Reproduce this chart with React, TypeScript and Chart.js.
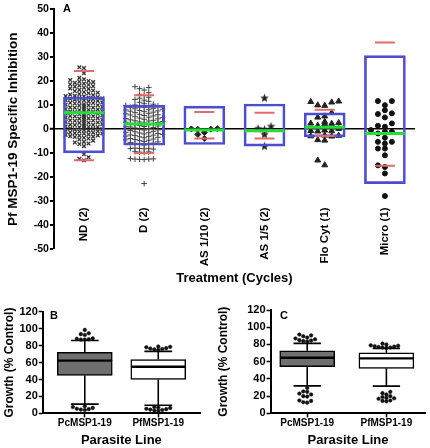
import React, { useEffect, useRef } from 'react';
import { Chart, registerables } from 'chart.js';

Chart.register(...registerables);

const FONT = "'Liberation Sans', Arial, Helvetica, sans-serif";

// ---------- Panel A data ----------
const TREATMENTS = ['ND (2)', 'D (2)', 'AS 1/10 (2)', 'AS 1/5 (2)', 'Flo Cyt (1)', 'Micro (1)'];
const Y_TICKS_A = [-50, -40, -30, -20, -10, 0, 10, 20, 30, 40, 50];
const BOX_LOW = [-9.9, -6.7, -6.4, -7.1, -3.2, -22.7];
const BOX_HIGH = [13.3, 9.9, 9.6, 10.5, 6.8, 30.7];
const MEAN = [6.8, 2.1, -0.4, -0.7, 0.8, -1.8];
const RED_HIGH = [24.3, 14.1, 7.2, 6.8, 8.1, 36.1];
const RED_LOW = [-13.0, -9.9, -3.9, -3.9, -2.9, -15.3];

const ND_VALUES = [
  25.8, 25.5, 23.3, 21.4, 20.8, 20.5, 20.1, 19.8, 19.6, 19.3, 19.0, 18.7, 18.5, 18.2, 17.9, 17.7,
  17.3, 17.0, 16.8, 16.4, 16.1, 15.9, 15.5, 15.2, 15.0, 14.6, 14.4, 14.2, 13.9, 13.8, 13.7, 13.4,
  13.2, 13.0, 12.9, 12.7, 12.5, 12.3, 12.1, 12.0, 11.8, 11.6, 11.4, 11.1, 11.0, 10.9, 10.7, 10.4,
  10.2, 10.0, 9.9, 9.8, 9.5, 9.3, 9.1, 9.0, 8.9, 8.6, 8.4, 8.2, 8.1, 8.0, 7.7, 7.5, 7.3, 7.2,
  7.1, 6.8, 6.6, 6.4, 6.3, 6.2, 5.9, 5.7, 5.5, 5.4, 5.3, 5.0, 4.8, 4.6, 4.5, 4.4, 4.1, 3.9, 3.7,
  3.6, 3.5, 3.2, 3.0, 2.8, 2.7, 2.6, 2.3, 2.1, 1.9, 1.8, 1.7, 1.4, 1.2, 1.0, 0.9, 0.8, 0.5, 0.3,
  0.1, 0.0, -0.1, -0.4, -0.6, -0.8, -0.9, -1.0, -1.3, -1.5, -1.7, -1.8, -1.9, -2.2, -2.4, -2.6,
  -2.7, -2.9, -3.1, -3.3, -3.6, -3.9, -4.3, -4.8, -5.3, -5.6, -6.0, -6.2, -7.1, -10.5, -11.7,
  -12.4, -13.0,
];
const D_VALUES = [
  17.7, 17.4, 16.9, 16.3, 15.2, 14.5, 14.0, 13.3, 12.9, 12.4, 12.1, 11.6, 11.2, 10.6, 10.4, 10.1,
  9.9, 9.7, 9.6, 9.4, 9.2, 9.0, 8.7, 8.5, 8.3, 8.1, 8.0, 7.8, 7.6, 7.5, 7.3, 7.1, 6.9, 6.6, 6.4,
  6.2, 6.0, 5.9, 5.7, 5.5, 5.2, 5.0, 4.8, 4.6, 4.4, 4.3, 4.1, 3.9, 3.7, 3.5, 3.4, 3.2, 3.0, 2.9,
  2.8, 2.6, 2.4, 2.2, 2.0, 1.8, 1.5, 1.3, 1.1, 1.0, 0.9, 0.7, 0.5, 0.2, 0.0, -0.2, -0.3, -0.4,
  -0.6, -0.9, -1.1, -1.3, -1.5, -1.6, -1.8, -2.0, -2.2, -2.4, -2.5, -2.7, -2.9, -3.0, -3.2, -3.4,
  -3.6, -3.9, -4.1, -4.3, -4.5, -4.6, -4.8, -5.1, -5.3, -5.6, -5.8, -5.9, -6.1, -6.3, -6.6, -7.9,
  -8.0, -8.1, -8.2, -8.3, -8.1, -9.4, -9.5, -9.6, -9.7, -12.3, -12.4, -12.5, -12.6, -12.7, -12.5,
  -22.7,
];
const AS10_VALUES = [0.2, 0.1, 0.0, -0.1, -1.4, -2.2, -3.9];
const AS5_VALUES = [13.1, 1.3, 0.4, 0.0, -2.1, -7.0];
const FLO_VALUES = [
  11.6, 11.4, 11.2, 10.0, 9.8, 6.8, 5.4, 4.9, 3.1, 2.6, 2.4, 2.3, 2.2, 1.5, 0.2, -0.5, -0.7, -0.8,
  -0.9, -2.7, -2.9, -3.0, -2.6, -4.5, -4.7, -13.0, -15.0,
];
const MICRO_VALUES = [
  11.7, 11.7, 10.0, 7.9, 6.3, 6.6, 4.9, 2.4, 1.0, 1.4, -0.4, -1.8, -1.1, -1.1, -3.6, -5.3, -6.0,
  -5.3, -8.1, -8.1, -10.9, -15.8, -15.1, -18.5, -27.9,
];

// ---------- Panels B & C data ----------
const LINES = ['PcMSP1-19', 'PfMSP1-19'];
const Y_TICKS_BC = [0, 20, 40, 60, 80, 100, 120];
// [min whisker, Q1, median, Q3, max whisker]
const B_PC = [10.9, 44.8, 62.3, 72.0, 86.1];
const B_PF = [9.7, 40.0, 55.0, 63.5, 73.2];
const B_PC_OUT = [98.5, 94.5, 93.5, 92.5, 88.5, 88, 87.5, 87, 87, 8.5, 7.5, 6.5, 5.5, 5, 4.5, 4];
const B_PF_OUT = [79, 78.5, 78, 77, 76.5, 76, 75.5, 75, 7.5, 7, 6.5, 5.5, 5, 4.5, 4, 3.5, 3];
const C_PC = [32.0, 54.1, 64.6, 72.7, 81.3];
const C_PF = [31.7, 52.3, 63.9, 70.4, 75.5];
const C_PC_OUT = [91.5, 90.5, 89.5, 88, 87, 86, 85, 84.5, 84, 83.5, 29.5, 25.5, 25, 23, 22, 20, 19.5, 15, 14.5, 13, 12.5];
const C_PF_OUT = [81, 80, 79, 78.5, 78, 77.5, 77, 76.5, 76.5, 76, 25, 23.5, 22, 20, 19, 18, 17.5, 17, 15, 14.5, 14];

// ---------- helpers ----------
type Pt = { x: number; y: number };

function segs(items: number[][]): Pt[] {
  const out: Pt[] = [];
  items.forEach(([x1, y1, x2, y2]) => {
    out.push({ x: x1, y: y1 }, { x: x2, y: y2 }, { x: NaN, y: NaN });
  });
  return out;
}

// deterministic beeswarm layout (columns) for a set of values
function swarm(values: number[], center: number, stepX: number, minDy: number, maxCols: number): Pt[] {
  const sorted = values.map((v, i) => ({ v, i })).sort((a, b) => a.v - b.v);
  const placed: { v: number; c: number }[] = [];
  const out: Pt[] = new Array(values.length);
  const order = [0];
  for (let k = 1; k <= maxCols; k++) order.push(-k, k);
  for (const { v, i } of sorted) {
    let best = 0;
    let bestConf = Infinity;
    for (const c of order) {
      let conf = 0;
      for (const p of placed) if (p.c === c && Math.abs(p.v - v) < minDy) conf++;
      if (conf < bestConf) {
        bestConf = conf;
        best = c;
        if (conf === 0) break;
      }
    }
    placed.push({ v, c: best });
    out[i] = { x: center + best * stepX, y: v };
  }
  return out;
}

function makeStar(size: number, color: string): HTMLCanvasElement {
  const c = document.createElement('canvas');
  c.width = size;
  c.height = size;
  const g = c.getContext('2d')!;
  g.fillStyle = color;
  g.beginPath();
  for (let k = 0; k < 10; k++) {
    const r = k % 2 === 0 ? size / 2 : size / 4.6;
    const a = -Math.PI / 2 + (k * Math.PI) / 5;
    const px = size / 2 + r * Math.cos(a);
    const py = size / 2 + 0.5 + r * Math.sin(a);
    if (k === 0) g.moveTo(px, py);
    else g.lineTo(px, py);
  }
  g.closePath();
  g.fill();
  return c;
}

// ---------- Panel A ----------
const A_PX_PER_CAT = 362 / 6;
const A_PX_PER_UNIT = 239.4 / 100;

function buildA(canvas: HTMLCanvasElement): Chart {
  const boxHalf = 20 / A_PX_PER_CAT;
  const redHalf = 10 / A_PX_PER_CAT;
  const green = segs(MEAN.map((m, i) => [i - boxHalf, m, i + boxHalf, m]));
  const red = segs([
    ...RED_HIGH.map((v, i) => [i - redHalf, v, i + redHalf, v]),
    ...RED_LOW.map((v, i) => [i - redHalf, v, i + redHalf, v]),
  ]);
  const star = makeStar(9, '#222');
  const sx = (px: number) => px / A_PX_PER_CAT;
  const sy = (px: number) => px / A_PX_PER_UNIT;
  const groups: any[] = [
    { vals: ND_VALUES, style: 'crossRot', r: 2.6, bw: 1.3, step: 4.6, dy: 3.6, cols: 4, color: '#333' },
    { vals: D_VALUES, style: 'cross', r: 2.8, bw: 1.0, step: 4.6, dy: 3.4, cols: 4, color: '#444' },
    { vals: AS10_VALUES, style: 'rectRot', r: 3.0, bw: 1, step: 6.5, dy: 5, cols: 3, color: '#222' },
    { vals: AS5_VALUES, style: star, r: 4.5, bw: 1, step: 6.5, dy: 5, cols: 3, color: '#222' },
    { vals: FLO_VALUES, style: 'triangle', r: 3.4, bw: 1, step: 7, dy: 5, cols: 2, color: '#222' },
    { vals: MICRO_VALUES, style: 'circle', r: 2.5, bw: 1, step: 7, dy: 5, cols: 2, color: '#111' },
  ];
  const pointSets = groups.map((g, i) => ({
    type: 'scatter' as const,
    data: swarm(g.vals, i, sx(g.step), sy(g.dy), g.cols),
    pointStyle: g.style,
    pointRadius: g.r,
    pointBorderWidth: g.bw,
    pointBackgroundColor: g.color,
    pointBorderColor: g.color,
  }));

  return new Chart(canvas, {
    type: 'scatter',
    data: {
      datasets: [
        {
          type: 'line',
          data: green,
          showLine: true,
          borderColor: '#22dd3c',
          borderWidth: 3,
          pointRadius: 0,
          spanGaps: false,
        } as any,
        {
          type: 'line',
          data: red,
          showLine: true,
          borderColor: '#e46a6a',
          borderWidth: 2,
          pointRadius: 0,
          spanGaps: false,
        } as any,
        {
          type: 'bar',
          data: BOX_LOW.map((lo, i) => ({ x: i, y: [lo, BOX_HIGH[i]] })),
          backgroundColor: 'rgba(0,0,0,0)',
          borderColor: '#4d4dd0',
          borderWidth: 2,
          borderSkipped: false,
          barThickness: 41,
          grouped: false,
        } as any,
        ...pointSets,
      ],
    },
    options: {
      animation: false,
      responsive: false,
      devicePixelRatio: 1,
      layout: { padding: { left: 0, right: 15, top: 9.3, bottom: 43 } },
      plugins: { legend: { display: false }, tooltip: { enabled: false } },
      scales: {
        x: {
          type: 'linear',
          position: { y: -29.3 },
          min: -0.5,
          max: 5.5,
          offset: false,
          afterBuildTicks: (s: any) => {
            s.ticks = TREATMENTS.map((_, i) => ({ value: i }));
          },
          grid: { display: false, offset: false },
          border: { display: false },
          ticks: {
            minRotation: 90,
            maxRotation: 90,
            autoSkip: false,
            padding: 0,
            color: '#000',
            font: { family: FONT, size: 11.5, weight: 'bold' },
            callback: (v: any) => TREATMENTS[v as number],
          },
          title: {
            display: true,
            text: 'Treatment (Cycles)',
            color: '#000',
            font: { family: FONT, size: 13, weight: 'bold' },
            padding: { top: 4.4, bottom: 0 },
          },
        },
        y: {
          type: 'linear',
          min: -50,
          max: 50,
          afterBuildTicks: (s: any) => {
            s.ticks = Y_TICKS_A.map((v) => ({ value: v }));
          },
          grid: {
            color: (ctx: any) => (ctx.tick && ctx.tick.value === 0 ? '#000' : 'rgba(0,0,0,0)'),
            lineWidth: (ctx: any) => (ctx.tick && ctx.tick.value === 0 ? 1.6 : 0),
            tickColor: '#000',
            tickLength: 4,
            tickWidth: 2,
          },
          border: { display: true, color: '#000', width: 2 },
          ticks: {
            color: '#000',
            padding: 1,
            font: { family: FONT, size: 10.5, weight: 'bold' },
          },
          title: {
            display: true,
            text: 'Pf MSP1-19 Specific Inhibition',
            color: '#000',
            font: { family: FONT, size: 13.5, weight: 'bold' },
            padding: { top: 5, bottom: 11.5 },
          },
        },
      },
    } as any,
  });
}

// ---------- Panels B & C ----------
interface BoxCfg {
  summaries: number[][];
  outliers: number[][];
  xMin: number;
  xMax: number;
  pxPerCat: number;
  pad: { left: number; right: number; top: number; bottom: number };
  titlePad: { top: number; bottom: number };
}

const BOX_FILLS = ['#6f6f6f', '#ffffff'];

function buildBox(canvas: HTMLCanvasElement, cfg: BoxCfg): Chart {
  const capHalf = 14 / cfg.pxPerCat;
  const pxPerUnit = 102 / 120;
  const whisk = segs(
    cfg.summaries.flatMap((s, i) => [
      [i, s[3], i, s[4]],
      [i, s[1], i, s[0]],
      [i - capHalf, s[4], i + capHalf, s[4]],
      [i - capHalf, s[0], i + capHalf, s[0]],
    ])
  );
  const outPts = cfg.outliers.flatMap((o, i) => swarm(o, i, 4 / cfg.pxPerCat, 3.4 / pxPerUnit, 4));
  return new Chart(canvas, {
    type: 'scatter',
    data: {
      datasets: [
        {
          type: 'scatter',
          data: outPts,
          pointRadius: 1.8,
          pointBackgroundColor: '#111',
          pointBorderColor: '#111',
          pointBorderWidth: 0.5,
        },
        {
          type: 'bar',
          data: cfg.summaries.map((s, i) => ({ x: i, y: [s[2], s[3]] })),
          backgroundColor: BOX_FILLS,
          borderColor: '#000',
          borderWidth: 1.5,
          borderSkipped: false,
          barThickness: 55,
          grouped: false,
        } as any,
        {
          type: 'bar',
          data: cfg.summaries.map((s, i) => ({ x: i, y: [s[1], s[2]] })),
          backgroundColor: BOX_FILLS,
          borderColor: '#000',
          borderWidth: 1.5,
          borderSkipped: false,
          barThickness: 55,
          grouped: false,
        } as any,
        {
          type: 'line',
          data: whisk,
          showLine: true,
          borderColor: '#000',
          borderWidth: 1.6,
          pointRadius: 0,
          spanGaps: false,
        } as any,
      ],
    },
    options: {
      animation: false,
      responsive: false,
      devicePixelRatio: 1,
      layout: { padding: cfg.pad },
      plugins: { legend: { display: false }, tooltip: { enabled: false } },
      scales: {
        x: {
          type: 'linear',
          min: cfg.xMin,
          max: cfg.xMax,
          offset: false,
          afterBuildTicks: (s: any) => {
            s.ticks = LINES.map((_, i) => ({ value: i }));
          },
          grid: { display: true, offset: false, color: 'rgba(0,0,0,0)', tickColor: '#000', tickLength: 4, tickWidth: 1.5 },
          border: { display: true, color: '#000', width: 2 },
          ticks: {
            autoSkip: false,
            maxRotation: 0,
            padding: 0,
            color: '#000',
            font: { family: FONT, size: 10, weight: 'bold' },
            callback: (v: any) => LINES[v as number],
          },
          title: {
            display: true,
            text: 'Parasite Line',
            color: '#000',
            font: { family: FONT, size: 13, weight: 'bold' },
            padding: { top: 3, bottom: 0 },
          },
        },
        y: {
          type: 'linear',
          min: 0,
          max: 120,
          afterBuildTicks: (s: any) => {
            s.ticks = Y_TICKS_BC.map((v) => ({ value: v }));
          },
          grid: { display: true, color: 'rgba(0,0,0,0)', tickColor: '#000', tickLength: 4, tickWidth: 1.5 },
          border: { display: true, color: '#000', width: 2 },
          ticks: { color: '#000', padding: 1, font: { family: FONT, size: 11, weight: 'bold' } },
          title: {
            display: true,
            text: 'Growth (% Control)',
            color: '#000',
            font: { family: FONT, size: 12, weight: 'bold' },
            padding: cfg.titlePad,
          },
        },
      },
    } as any,
  });
}

const letterStyle: React.CSSProperties = {
  position: 'absolute',
  fontFamily: FONT,
  fontWeight: 'bold',
  fontSize: 11,
  lineHeight: '11px',
  color: '#000',
};

export default function App() {
  const aRef = useRef<HTMLCanvasElement>(null);
  const bRef = useRef<HTMLCanvasElement>(null);
  const cRef = useRef<HTMLCanvasElement>(null);

  useEffect(() => {
    const charts = [
      buildA(aRef.current!),
      buildBox(bRef.current!, {
        summaries: [B_PC, B_PF],
        outliers: [B_PC_OUT, B_PF_OUT],
        xMin: -0.572,
        xMax: 1.568,
        pxPerCat: 74,
        pad: { left: 0, right: 15, top: 15.7, bottom: 0 },
        titlePad: { top: 2.8, bottom: 1.2 },
      }),
      buildBox(cRef.current!, {
        summaries: [C_PC, C_PF],
        outliers: [C_PC_OUT, C_PF_OUT],
        xMin: -0.463,
        xMax: 1.494,
        pxPerCat: 81,
        pad: { left: 0, right: 2, top: 14, bottom: 0 },
        titlePad: { top: 1.8, bottom: 15 },
      }),
    ];
    return () => charts.forEach((c) => c.destroy());
  }, []);

  return (
    <div style={{ position: 'absolute', left: 0, top: 0, width: 430, height: 448, background: '#fff', overflow: 'hidden' }}>
      <canvas ref={aRef} width={430} height={292} style={{ position: 'absolute', left: 0, top: 0 }} />
      <canvas ref={bRef} width={215} height={152} style={{ position: 'absolute', left: 0, top: 296 }} />
      <canvas ref={cRef} width={215} height={152} style={{ position: 'absolute', left: 215, top: 296 }} />
      <div style={{ ...letterStyle, left: 63, top: 3 }}>A</div>
      <div style={{ ...letterStyle, left: 50, top: 310 }}>B</div>
      <div style={{ ...letterStyle, left: 280, top: 310 }}>C</div>
    </div>
  );
}
